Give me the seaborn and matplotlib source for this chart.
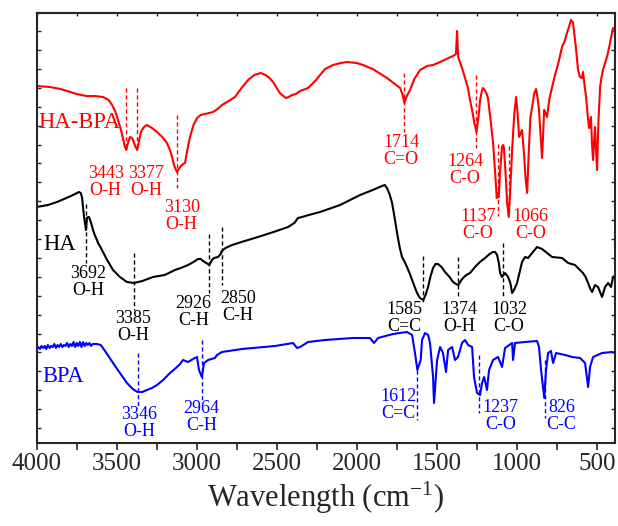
import numpy as np
import pandas as pd
import matplotlib
matplotlib.use("Agg")
import matplotlib.pyplot as plt
import seaborn as sns
from matplotlib.ticker import MultipleLocator, FixedLocator, NullFormatter

# ---------------- data (wavenumber cm-1, transmittance a.u.) ----------------
habpa_wn = [4000, 3920, 3850, 3750, 3690, 3640, 3586, 3550, 3529, 3510, 3492, 3475, 3461, 3450,
            3440, 3430, 3417, 3405, 3398, 3385, 3372, 3360, 3350, 3342, 3330, 3311, 3280, 3248,
            3215, 3186, 3170, 3154, 3140, 3124, 3112, 3104, 3085, 3073, 3060, 3042, 3020, 2998,
            2975, 2948, 2898, 2870, 2842, 2800, 2761, 2720, 2679, 2640, 2600, 2570, 2545, 2523,
            2500, 2480, 2467, 2442, 2425, 2404, 2380, 2354, 2304, 2260, 2229, 2198, 2148, 2100,
            2061, 2000, 1961, 1900, 1850, 1811, 1770, 1729, 1715, 1702, 1690, 1667, 1640, 1604,
            1560, 1523, 1479, 1440, 1398, 1380, 1373, 1366, 1340, 1323, 1305, 1292, 1279, 1265,
            1252, 1240, 1229, 1218, 1211, 1200, 1190, 1180, 1165, 1148, 1135, 1125, 1118, 1112,
            1105, 1092, 1085, 1080, 1070, 1060, 1050, 1040, 1029, 1015, 1004, 995, 985, 975, 967,
            955, 945, 935, 925, 915, 904, 890, 879, 870, 861, 850, 842, 836, 829, 820, 811, 795,
            779, 761, 740, 717, 700, 686, 670, 661, 648, 630, 617, 605, 592, 586, 578, 567, 555,
            548, 542, 536, 530, 523, 517, 511, 505, 498, 490, 479, 470, 461, 448, 436, 417, 405,
            398, 390, 379]
habpa_t = [357, 356, 354, 349, 347, 347, 346, 343, 338, 332, 323, 314, 305, 297,
           293, 300, 306, 305, 303, 297, 293, 302, 310, 313, 316, 318, 315, 311,
           306, 300, 294, 286, 277, 271, 274, 276, 279, 280, 292, 306, 318, 325,
           328, 329, 331, 334, 338, 342, 346, 355, 363, 368, 370, 368, 365, 361,
           355, 350, 348, 345, 346, 348, 349, 352, 355, 362, 368, 374, 378, 380,
           381, 380, 378, 374, 369, 365, 360, 355, 349, 340, 346, 353, 364, 373,
           377, 378, 381, 384, 387, 389, 412, 386, 374, 365, 355, 343, 333, 320,
           311, 325, 343, 352, 355, 353, 350, 345, 325, 300, 270, 245, 250, 246,
           270, 296, 298, 295, 270, 240, 226, 255, 293, 330, 346, 330, 306, 310, 313,
           290, 265, 250, 290, 325, 336, 350, 354, 345, 333, 305, 285, 305, 333, 330, 326, 345,
           356, 368, 380, 396, 402, 410, 418, 423, 420, 395, 373, 366, 365, 371, 360, 346, 325,
           315, 322, 326, 300, 283, 300, 316, 295, 273, 320, 356, 366, 373, 380, 386, 400, 410,
           415, 414, 413]

ha_wn = [4000, 3930, 3873, 3800, 3760, 3736, 3725, 3717, 3710, 3704, 3692, 3686, 3680, 3673,
         3660, 3648, 3635, 3623, 3617, 3605, 3592, 3560, 3523, 3480, 3436, 3392, 3340, 3273,
         3200, 3136, 3100, 3054, 3020, 2992, 2975, 2961, 2940, 2921, 2905, 2892, 2867, 2850,
         2844, 2820, 2779, 2700, 2617, 2520, 2429, 2390, 2367, 2342, 2300, 2229, 2104, 1979,
         1900, 1842, 1825, 1811, 1795, 1779, 1763, 1748, 1732, 1717, 1700, 1686, 1670, 1654,
         1640, 1623, 1605, 1584, 1570, 1554, 1540, 1523, 1508, 1492, 1470, 1448, 1420, 1398,
         1380, 1365, 1350, 1336, 1315, 1292, 1261, 1230, 1198, 1170, 1148, 1135, 1123, 1112,
         1104, 1092, 1073, 1054, 1040, 1029, 1017, 998, 980, 967, 948, 929, 904, 873, 842,
         811, 779, 717, 679, 636, 586, 570, 554, 540, 529, 511, 492, 467, 448, 429, 411, 398, 379]
ha_t = [236, 238, 241, 246, 249, 251, 250, 246, 235, 226, 213, 225, 226, 226,
        220, 213, 207, 203, 200, 197, 193, 183, 173, 166, 161, 160, 162, 166,
        168, 173, 175, 178, 181, 184, 184, 182, 180, 178, 183, 185, 186, 189,
        192, 195, 198, 202, 206, 211, 216, 220, 225, 226, 228, 231, 238, 248,
        253, 257, 258, 255, 249, 240, 225, 210, 196, 186, 181, 176, 170, 163,
        157, 150, 145, 143, 148, 156, 166, 175, 179, 179, 176, 171, 166, 161,
        159, 158, 162, 165, 168, 170, 176, 181, 185, 189, 191, 191, 188, 180,
        170, 166, 170, 166, 160, 150, 153, 160, 172, 181, 186, 185, 190, 196, 194,
        190, 186, 185, 180, 178, 170, 166, 160, 154, 151, 158, 156, 146, 156, 160, 156, 166, 168]

bpa_wn = [4000, 3990, 3980, 3970, 3960, 3950, 3940, 3930, 3920, 3910, 3900, 3890, 3880, 3870,
          3860, 3850, 3840, 3830, 3820, 3810, 3800, 3790, 3780, 3770, 3760, 3750, 3740, 3730,
          3720, 3710, 3700, 3690, 3680, 3670, 3660, 3650, 3640, 3623, 3600, 3586, 3560, 3523,
          3480, 3436, 3400, 3370, 3340, 3311, 3280, 3248, 3210, 3167, 3130, 3104, 3086, 3054,
          3023, 2998, 2986, 2968, 2954, 2929, 2886, 2873, 2842, 2717, 2511, 2398, 2373, 2354,
          2304, 2198, 2023, 1917, 1892, 1867, 1773, 1686, 1654, 1636, 1621, 1600, 1592, 1573,
          1554, 1542, 1523, 1517, 1498, 1479, 1461, 1442, 1429, 1404, 1386, 1367, 1342, 1323,
          1304, 1279, 1267, 1248, 1229, 1217, 1204, 1186, 1173, 1148, 1117, 1092, 1073, 1029,
          1023, 1011, 948, 873, 861, 848, 828, 817, 804, 786, 773, 754, 698, 654, 604, 573,
          554, 542, 523, 467, 404, 386]
bpa_t = [95, 96, 94, 97, 95, 97, 94, 98, 95, 97, 96, 99, 95, 98,
         96, 99, 96, 98, 97, 100, 96, 99, 97, 101, 96, 100, 97, 101,
         96, 101, 97, 100, 98, 100, 97, 99, 99, 99, 98, 95, 89, 80,
         70, 60, 54, 51, 51, 53, 55, 58, 63, 70, 75, 79, 83, 81,
         84, 86, 73, 66, 80, 83, 85, 88, 91, 94, 97, 100, 95, 96,
         101, 103, 105, 105, 100, 105, 109, 111, 108, 90, 73, 83, 103, 110,
         108, 100, 66, 40, 83, 96, 90, 71, 93, 96, 83, 86, 100, 103,
         98, 96, 66, 50, 48, 60, 66, 53, 73, 83, 86, 76, 95, 100,
         83, 100, 101, 102, 96, 73, 45, 73, 90, 92, 80, 90, 88, 86, 85, 80,
         56, 76, 86, 90, 91, 90]

series_names = ["HA-BPA", "HA", "BPA"]
series_colors = ["#ff0000", "#000000", "#0000ff"]

# peak annotations: (series, label, line position cm-1)
peak_series = ["HA-BPA"] * 7 + ["HA"] * 7 + ["BPA"] * 5
peak_labels = ["3443\nO-H", "3377\nO-H", "3130\nO-H", "1714\nC=O", "1264\nC-O", "1137\nC-O", "1066\nC-O",
               "3692\nO-H", "3385\nO-H", "2926\nC-H", "2850\nC-H", "1585\nC=C", "1374\nO-H", "1032\nC-O",
               "3346\nO-H", "2964\nC-H", "1612\nC=C", "1237\nC-O", "826\nC-C"]
peak_wn = [3440, 3371, 3125, 1702, 1252, 1119, 1050,
           3692, 3392, 2921, 2844, 1584, 1365, 1088,
           3369, 2969, 1621, 1236, 826]

# layout for annotations (line y-range, text centre)
line_y0 = [355, 355, 328, 370, 368, 299, 297, 239, 190, 209, 216, 187, 186, 200, 90, 103, 73, 88, 83]
line_y1 = [293, 293, 255, 311, 295, 227, 227, 180, 133, 150, 158, 140, 146, 145, 36, 41, 23, 30, 25]
text_x = [3569, 3317, 3094, 1723, 1323, 1243, 914, 3679, 3399, 3019, 2744, 1701, 1359, 1048,
          3361, 2969, 1738, 1101, 721]
text_y = [261, 261, 227, 292, 273, 218, 218, 161, 116, 131, 136, 125, 125, 125, 20, 26, 38, 27, 27]

# ---------------- plotting ----------------
sns.set_theme(style="ticks")
plt.rcParams["font.family"] = ["Liberation Serif", "DejaVu Serif"]
plt.rcParams["mathtext.fontset"] = "custom"
plt.rcParams["mathtext.rm"] = "Liberation Serif"
plt.rcParams["mathtext.it"] = "Liberation Serif:italic"

fig = plt.figure(figsize=(6.18, 5.26), dpi=100)
ax = fig.add_axes([36.7 / 618, 1 - 443 / 526, (615 - 36.7) / 618, (443 - 13) / 526])

frames = []
for name, wn, t in [("HA-BPA", habpa_wn, habpa_t), ("HA", ha_wn, ha_t), ("BPA", bpa_wn, bpa_t)]:
    frames.append(pd.DataFrame({"wn": wn, "t": t, "sample": name}))
df = pd.concat(frames, ignore_index=True)

sns.lineplot(data=df, x="wn", y="t", hue="sample", hue_order=series_names,
             palette=series_colors, sort=False, estimator=None, linewidth=1.5,
             legend=False, ax=ax)

cmap = dict(zip(series_names, series_colors))
for s, lab, w, y0, y1, tx, ty in zip(peak_series, peak_labels, peak_wn, line_y0, line_y1, text_x, text_y):
    c = cmap[s]
    ax.plot([w, w], [y0, y1], color=c, lw=1.0, dashes=(3, 2))
    ax.text(tx, ty, lab, color=c, fontsize=13, ha="center", va="center", linespacing=1.0)

ax.text(3990, 320, "HA-BPA", color=cmap["HA-BPA"], fontsize=16.3, ha="left", va="center")
ax.text(3960, 198, "HA", color=cmap["HA"], fontsize=16.3, ha="left", va="center")
ax.text(3967, 66, "BPA", color=cmap["BPA"], fontsize=16.3, ha="left", va="center")

ax.set_xlim(4000, 386)
ax.set_ylim(0, 430)
ax.xaxis.set_major_locator(MultipleLocator(500))
ax.xaxis.set_minor_locator(MultipleLocator(250))
ax.yaxis.set_major_locator(FixedLocator(np.arange(15, 430, 18.9)))
ax.yaxis.set_major_formatter(NullFormatter())
ax.tick_params(axis="x", which="both", direction="out", length=5, width=1.2,
               labelsize=18, top=False, pad=2)
ax.tick_params(axis="y", which="both", direction="in", length=3, width=1.0,
               left=True, right=True, labelleft=False)
for sp in ax.spines.values():
    sp.set_linewidth(1.5)
    sp.set_visible(True)

top = ax.secondary_xaxis("top")
top.xaxis.set_major_locator(MultipleLocator(250))
top.tick_params(direction="in", length=2.5, width=1.0, labeltop=False)
top.spines["top"].set_linewidth(1.5)

ax.set_xlabel(r"Wavelength (cm$^{\mathrm{-1}}$)", fontsize=22, labelpad=4)
ax.set_ylabel("")

fig.savefig("out.png", dpi=100)
